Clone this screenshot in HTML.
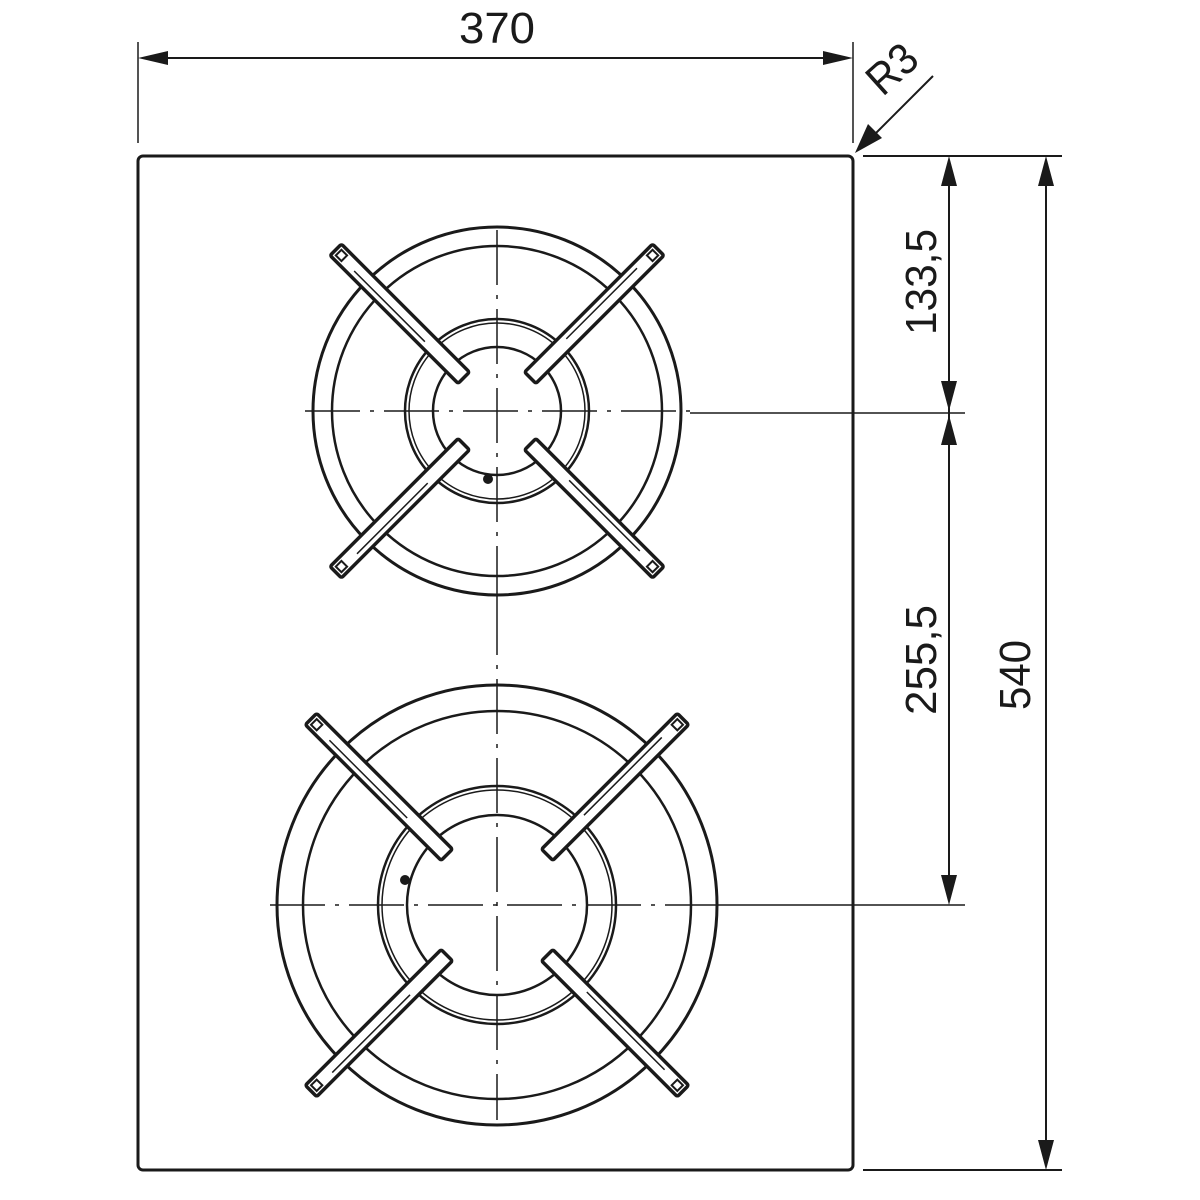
<!DOCTYPE html>
<html><head><meta charset="utf-8"><style>html,body{margin:0;padding:0;background:#fff}svg{display:block}</style></head>
<body>
<svg width="1200" height="1200" viewBox="0 0 1200 1200" xmlns="http://www.w3.org/2000/svg">
<defs>
<g id="bar1">
  <rect x="-8" y="-228" width="16" height="181" rx="2" fill="#fff" stroke="#1a1a1a" stroke-width="3.5"/>
  <line x1="-2" y1="-200" x2="-2" y2="-100" stroke="#1a1a1a" stroke-width="1.5"/>
  <rect x="-4" y="-224" width="8" height="8" fill="#fff" stroke="#1a1a1a" stroke-width="2"/>
</g>
<g id="bar2">
  <rect x="-8" y="-263" width="16" height="192" rx="2" fill="#fff" stroke="#1a1a1a" stroke-width="3.5"/>
  <line x1="-2" y1="-235" x2="-2" y2="-125" stroke="#1a1a1a" stroke-width="1.5"/>
  <rect x="-4" y="-259" width="8" height="8" fill="#fff" stroke="#1a1a1a" stroke-width="2"/>
</g>
</defs>
<g fill="none" stroke="#1a1a1a">
  <rect x="138" y="156" width="715" height="1014" rx="5" stroke-width="3"/>
  <line x1="138" y1="42" x2="138" y2="143" stroke-width="1.5"/>
  <line x1="853" y1="42" x2="853" y2="143" stroke-width="1.5"/>
  <line x1="160" y1="58" x2="830" y2="58" stroke-width="2"/>
  <line x1="933" y1="76" x2="875" y2="134" stroke-width="2"/>
  <line x1="863" y1="156" x2="1062" y2="156" stroke-width="2"/>
  <line x1="863" y1="1170" x2="1062" y2="1170" stroke-width="2"/>
  <line x1="690" y1="413" x2="965" y2="413" stroke-width="1.5"/>
  <line x1="720" y1="905" x2="965" y2="905" stroke-width="1.5"/>
  <line x1="949" y1="170" x2="949" y2="890" stroke-width="2"/>
  <line x1="1046" y1="170" x2="1046" y2="1156" stroke-width="2"/>
  <circle cx="497" cy="411" r="184" stroke-width="3"/>
  <circle cx="497" cy="411" r="165" stroke-width="2.5"/>
  <circle cx="497" cy="411" r="92" stroke-width="2.5"/>
  <circle cx="497" cy="411" r="88" stroke-width="1.5"/>
  <circle cx="497" cy="411" r="64" stroke-width="2.5"/>
  <circle cx="497" cy="905" r="220" stroke-width="3"/>
  <circle cx="497" cy="905" r="194" stroke-width="2.5"/>
  <circle cx="497" cy="905" r="119" stroke-width="2.5"/>
  <circle cx="497" cy="905" r="115" stroke-width="1.5"/>
  <circle cx="497" cy="905" r="90" stroke-width="2.5"/>
  <g stroke-width="1.5" stroke-dasharray="55,10,4,10">
    <line x1="305" y1="411" x2="700" y2="411"/>
    <line x1="497" y1="230" x2="497" y2="600"/>
    <line x1="270" y1="905" x2="725" y2="905"/>
    <line x1="497" y1="600" x2="497" y2="1120"/>
  </g>
</g>
<g transform="translate(497,411)">
  <use href="#bar1" transform="rotate(-45)"/>
  <use href="#bar1" transform="rotate(45)"/>
  <use href="#bar1" transform="rotate(135)"/>
  <use href="#bar1" transform="rotate(225)"/>
</g>
<g transform="translate(497,905)">
  <use href="#bar2" transform="rotate(-45)"/>
  <use href="#bar2" transform="rotate(45)"/>
  <use href="#bar2" transform="rotate(135)"/>
  <use href="#bar2" transform="rotate(225)"/>
</g>
<circle cx="488" cy="479" r="5" fill="#1a1a1a"/>
<circle cx="405" cy="880" r="5" fill="#1a1a1a"/>
<g fill="#1a1a1a">
  <polygon points="138,58 168,51 168,65"/>
  <polygon points="853,58 823,51 823,65"/>
  <polygon points="855,153 868,124 882,138"/>
  <polygon points="949,156 941,186 957,186"/>
  <polygon points="949,411 941,381 957,381"/>
  <polygon points="949,415 941,445 957,445"/>
  <polygon points="949,905 941,875 957,875"/>
  <polygon points="1046,156 1038,186 1054,186"/>
  <polygon points="1046,1170 1038,1140 1054,1140"/>
</g>
<g font-family="'Liberation Sans', sans-serif" font-size="44" fill="#1a1a1a" text-anchor="middle">
  <text x="497" y="43" textLength="76" lengthAdjust="spacingAndGlyphs">370</text>
  <text transform="translate(902,80) rotate(-42)" textLength="52" lengthAdjust="spacingAndGlyphs">R3</text>
  <text transform="translate(936,282) rotate(-90)" textLength="106" lengthAdjust="spacingAndGlyphs">133,5</text>
  <text transform="translate(936,660) rotate(-90)" textLength="110" lengthAdjust="spacingAndGlyphs">255,5</text>
  <text transform="translate(1030,675) rotate(-90)" textLength="70" lengthAdjust="spacingAndGlyphs">540</text>
</g>
</svg>
</body></html>
